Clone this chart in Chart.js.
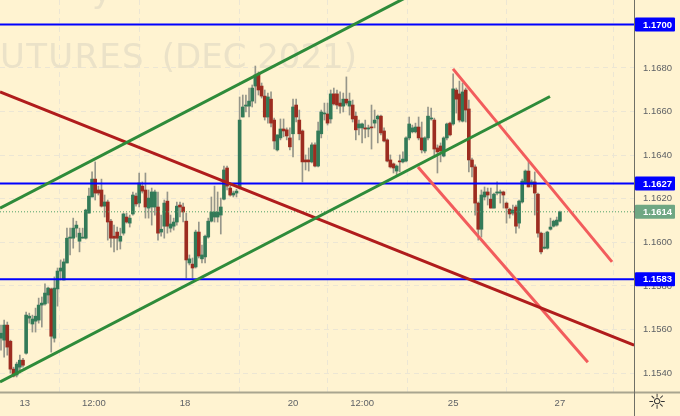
<!DOCTYPE html>
<html lang="en">
<head>
    <meta charset="UTF-8">
    <title>Futures (Dec 2021)</title>
    <script src="https://cdn.jsdelivr.net/npm/chart.js"></script>
    <style>
        body { margin: 0; background: #fff3d1; }
        canvas { display: block; }
    </style>
</head>
<body>
    <canvas id="chart" width="680" height="416"></canvas>
    <script>
        // candles, one entry per bar
        const opens = [1.15560,1.15551,1.15620,1.15546,1.15418,1.15391,1.15427,1.15459,1.15491,1.15652,1.15625,1.15638,1.15643,1.15712,1.15717,1.15758,1.15786,1.15560,1.15786,1.15868,1.15827,1.15905,1.16019,1.16019,1.16065,1.16005,1.16019,1.16019,1.16134,1.16208,1.16290,1.16240,1.16240,1.16166,1.16185,1.16097,1.16028,1.16047,1.16005,1.16042,1.16116,1.16088,1.16130,1.16212,1.16180,1.16258,1.16240,1.16157,1.16162,1.16162,1.16162,1.16047,1.16074,1.16189,1.16065,1.16074,1.16093,1.16171,1.16162,1.16097,1.15905,1.15900,1.15887,1.16047,1.15924,1.15933,1.16024,1.16097,1.16116,1.16116,1.16125,1.16198,1.16341,1.16249,1.16217,1.16226,1.16249,1.16575,1.16625,1.16625,1.16648,1.16717,1.16773,1.16717,1.16671,1.16575,1.16657,1.16561,1.16424,1.16479,1.16520,1.16516,1.16479,1.16498,1.16630,1.16561,1.16511,1.16378,1.16378,1.16369,1.16447,1.16350,1.16498,1.16589,1.16589,1.16566,1.16681,1.16681,1.16639,1.16625,1.16657,1.16625,1.16630,1.16579,1.16525,1.16525,1.16525,1.16520,1.16529,1.16547,1.16566,1.16579,1.16511,1.16470,1.16378,1.16360,1.16327,1.16373,1.16369,1.16373,1.16479,1.16507,1.16507,1.16529,1.16479,1.16419,1.16479,1.16566,1.16561,1.16433,1.16442,1.16396,1.16479,1.16547,1.16543,1.16699,1.16681,1.16556,1.16699,1.16612,1.16378,1.16346,1.16180,1.16060,1.16208,1.16231,1.16198,1.16157,1.16226,1.16226,1.16231,1.16180,1.16152,1.16134,1.16162,1.16088,1.16185,1.16272,1.16327,1.16267,1.16277,1.16221,1.16042,1.15973,1.15973,1.16060,1.16074,1.16079,1.16097];
        const highs = [1.15620,1.15643,1.15634,1.15551,1.15427,1.15450,1.15482,1.15468,1.15680,1.15675,1.15666,1.15698,1.15744,1.15749,1.15809,1.15795,1.15790,1.15841,1.15882,1.15919,1.15924,1.16065,1.16065,1.16111,1.16097,1.16065,1.16065,1.16152,1.16249,1.16323,1.16369,1.16258,1.16290,1.16217,1.16194,1.16106,1.16079,1.16070,1.16065,1.16134,1.16134,1.16125,1.16231,1.16226,1.16318,1.16277,1.16318,1.16240,1.16249,1.16240,1.16231,1.16125,1.16194,1.16231,1.16125,1.16111,1.16185,1.16185,1.16180,1.16134,1.15942,1.15928,1.16056,1.16093,1.15987,1.16033,1.16111,1.16208,1.16258,1.16231,1.16203,1.16350,1.16350,1.16272,1.16235,1.16244,1.16667,1.16676,1.16676,1.16708,1.16722,1.16809,1.16782,1.16731,1.16699,1.16685,1.16690,1.16570,1.16493,1.16566,1.16566,1.16525,1.16525,1.16657,1.16657,1.16607,1.16516,1.16401,1.16433,1.16456,1.16456,1.16552,1.16607,1.16639,1.16639,1.16699,1.16708,1.16699,1.16690,1.16685,1.16759,1.16685,1.16653,1.16598,1.16561,1.16547,1.16561,1.16538,1.16630,1.16607,1.16584,1.16584,1.16525,1.16475,1.16401,1.16364,1.16355,1.16401,1.16415,1.16484,1.16575,1.16538,1.16547,1.16575,1.16552,1.16484,1.16621,1.16616,1.16570,1.16447,1.16456,1.16484,1.16547,1.16552,1.16773,1.16708,1.16740,1.16731,1.16708,1.16653,1.16387,1.16355,1.16185,1.16240,1.16254,1.16249,1.16249,1.16226,1.16277,1.16240,1.16235,1.16185,1.16157,1.16171,1.16171,1.16194,1.16290,1.16332,1.16369,1.16286,1.16323,1.16226,1.16047,1.16042,1.16051,1.16111,1.16102,1.16116,1.16143];
        const lows = [1.15505,1.15473,1.15482,1.15400,1.15382,1.15382,1.15400,1.15427,1.15487,1.15629,1.15588,1.15588,1.15629,1.15611,1.15712,1.15721,1.15496,1.15542,1.15707,1.15827,1.15827,1.15905,1.15942,1.15973,1.16024,1.15956,1.16019,1.16015,1.16134,1.16208,1.16194,1.16217,1.16162,1.16116,1.16010,1.15978,1.15956,1.15965,1.15969,1.16033,1.16088,1.16070,1.16125,1.16166,1.16162,1.16226,1.16111,1.16111,1.16079,1.16125,1.16010,1.16028,1.16019,1.16042,1.16047,1.16056,1.16079,1.16116,1.16093,1.15836,1.15896,1.15836,1.15882,1.15928,1.15905,1.15905,1.16019,1.16093,1.16093,1.16093,1.16038,1.16194,1.16240,1.16212,1.16208,1.16208,1.16244,1.16575,1.16598,1.16575,1.16621,1.16639,1.16676,1.16662,1.16561,1.16547,1.16529,1.16428,1.16419,1.16470,1.16484,1.16470,1.16424,1.16392,1.16552,1.16470,1.16277,1.16332,1.16327,1.16364,1.16346,1.16346,1.16479,1.16561,1.16538,1.16547,1.16630,1.16612,1.16593,1.16598,1.16630,1.16584,1.16552,1.16470,1.16493,1.16456,1.16479,1.16484,1.16428,1.16525,1.16456,1.16493,1.16461,1.16369,1.16341,1.16318,1.16309,1.16323,1.16364,1.16369,1.16470,1.16502,1.16502,1.16470,1.16410,1.16410,1.16470,1.16561,1.16392,1.16318,1.16369,1.16392,1.16470,1.16488,1.16538,1.16593,1.16552,1.16552,1.16552,1.16323,1.16300,1.16125,1.16010,1.16024,1.16194,1.16171,1.16157,1.16157,1.16217,1.16180,1.16157,1.16088,1.16111,1.16125,1.16042,1.16065,1.16180,1.16267,1.16254,1.16254,1.16125,1.16024,1.15947,1.15969,1.15969,1.16056,1.16070,1.16074,1.16093];
        const closes = [1.15583,1.15620,1.15519,1.15418,1.15386,1.15441,1.15459,1.15436,1.15666,1.15661,1.15648,1.15661,1.15712,1.15721,1.15767,1.15790,1.15569,1.15790,1.15868,1.15882,1.15910,1.16019,1.16024,1.16065,1.16079,1.16042,1.16024,1.16148,1.16212,1.16290,1.16226,1.16226,1.16166,1.16185,1.16093,1.16019,1.16019,1.16019,1.16028,1.16130,1.16093,1.16111,1.16217,1.16176,1.16272,1.16235,1.16162,1.16203,1.16231,1.16231,1.16042,1.16060,1.16180,1.16074,1.16084,1.16093,1.16166,1.16162,1.16139,1.15919,1.15924,1.15882,1.16047,1.15937,1.15942,1.16028,1.16097,1.16139,1.16139,1.16139,1.16162,1.16332,1.16258,1.16217,1.16226,1.16235,1.16561,1.16621,1.16630,1.16648,1.16708,1.16768,1.16699,1.16671,1.16575,1.16667,1.16547,1.16465,1.16493,1.16520,1.16511,1.16488,1.16438,1.16621,1.16575,1.16498,1.16369,1.16369,1.16369,1.16447,1.16350,1.16511,1.16598,1.16593,1.16547,1.16681,1.16635,1.16630,1.16625,1.16657,1.16639,1.16648,1.16566,1.16516,1.16543,1.16543,1.16520,1.16525,1.16525,1.16561,1.16579,1.16502,1.16465,1.16373,1.16346,1.16341,1.16350,1.16369,1.16382,1.16479,1.16543,1.16525,1.16529,1.16479,1.16424,1.16479,1.16579,1.16570,1.16428,1.16415,1.16419,1.16479,1.16543,1.16493,1.16704,1.16657,1.16561,1.16690,1.16607,1.16378,1.16346,1.16180,1.16060,1.16217,1.16231,1.16217,1.16157,1.16221,1.16231,1.16231,1.16217,1.16157,1.16130,1.16148,1.16074,1.16189,1.16281,1.16327,1.16254,1.16277,1.16226,1.16042,1.15956,1.15978,1.16047,1.16070,1.16097,1.16102,1.16139];

        const xTickBars = [7.6, 29.6, 58.6, 93, 115, 144, 178];
        const xTickLabels = ['13', '12:00', '18', '20', '12:00', '25', '27'];
        const yTicks = [1.154, 1.156, 1.158, 1.16, 1.162, 1.164, 1.166, 1.168, 1.17];

        // drawn levels and trend lines, as [bar, price] ends
        const levels = [1.17, 1.1627, 1.1583];
        const lastPrice = 1.1614;
        const greenUpper = [[-0.32, 1.16157], [128.66, 1.17121]];
        const greenLower = [[-0.32, 1.15359], [174.84, 1.16669]];
        const redLine = [[-0.32, 1.16690], [201.6, 1.15528]];
        const pinkUpper = [[143.95, 1.16796], [194.6, 1.15910]];
        const pinkLower = [[132.8, 1.16346], [186.9, 1.15450]];

        const xMin = -0.32, xMax = 201.6, yMin = 1.15313, yMax = 1.17112;
        const BLUE = '#0000ff', TAG_GREEN = '#6fa783';

        const toPoints = line => line.map(p => ({ x: p[0], y: p[1] }));
        const trend = (line, color, width) => ({
            type: 'line', data: toPoints(line), borderColor: color, borderWidth: width,
            pointRadius: 0, tension: 0, order: 1
        });

        const wickData = highs.map((h, i) => ({ x: i, y: [lows[i], h] }));
        const bodyData = opens.map((o, i) => ({ x: i, y: [o, closes[i]] }));
        const isUp = closes.map((c, i) => c >= opens[i]);

        // no half-label padding, the plot runs to the canvas edge
        const noPad = s => {
            s.paddingTop = 0; s.paddingBottom = 0; s.paddingLeft = 0; s.paddingRight = 0;
        };

        // watermark sits above the grid, below the candles
        const watermark = {
            id: 'watermark',
            beforeDatasetsDraw(chart) {
                const { ctx, chartArea } = chart;
                ctx.save();
                ctx.beginPath();
                ctx.rect(chartArea.left, chartArea.top, chartArea.width, chartArea.height);
                ctx.clip();
                ctx.fillStyle = '#ebe2c8';
                ctx.font = '34px "DejaVu Sans"';
                ctx.textAlign = 'right';
                ctx.textBaseline = 'alphabetic';
                ctx.fillText('(DEC 2021)', 357, 68);
                ctx.letterSpacing = '1.3px';
                ctx.fillText('FUTURES', 145, 68);
                ctx.letterSpacing = '0px';
                ctx.textAlign = 'left';
                ctx.fillText('y', 92, 2);
                ctx.restore();
            }
        };

        // axis frame, price tags, settings icon
        const axisDecor = {
            id: 'axisDecor',
            afterDraw(chart) {
                const { ctx, chartArea, scales } = chart;
                ctx.save();
                ctx.strokeStyle = '#a9a58f';
                ctx.lineWidth = 2;
                ctx.beginPath();
                ctx.moveTo(0, chartArea.bottom + 0.5);
                ctx.lineTo(680, chartArea.bottom + 0.5);
                ctx.stroke();
                ctx.strokeStyle = '#6f6f66';
                ctx.lineWidth = 1;
                ctx.beginPath();
                ctx.moveTo(chartArea.right + 0.5, 0);
                ctx.lineTo(chartArea.right + 0.5, 416);
                ctx.stroke();

                const tag = (value, color) => {
                    const y = scales.y.getPixelForValue(value);
                    ctx.fillStyle = color;
                    ctx.beginPath();
                    ctx.roundRect(chartArea.right + 1, y - 7, 40, 14, 1);
                    ctx.fill();
                    ctx.fillStyle = '#ffffff';
                    ctx.font = 'bold 9.5px "Liberation Sans"';
                    ctx.textAlign = 'left';
                    ctx.textBaseline = 'middle';
                    ctx.fillText(value.toFixed(4), 643, y + 0.5);
                };
                levels.forEach(v => tag(v, BLUE));
                tag(lastPrice, TAG_GREEN);

                ctx.fillStyle = '#333333';
                ctx.font = '21px "DejaVu Sans"';
                ctx.textAlign = 'center';
                ctx.textBaseline = 'middle';
                ctx.fillText('\u263C', 657, 404);
                ctx.restore();
            }
        };

        new Chart(document.getElementById('chart').getContext('2d'), {
            data: {
                datasets: [
                    trend(greenUpper, '#2e8b3a', 3),
                    trend(greenLower, '#2e8b3a', 3),
                    trend(redLine, '#b01c1c', 3),
                    trend(pinkUpper, '#f25c5c', 3),
                    trend(pinkLower, '#f25c5c', 3),
                    ...levels.map(v => trend([[xMin, v], [xMax, v]], BLUE, 2)),
                    {
                        type: 'line', data: toPoints([[xMin, lastPrice], [xMax, lastPrice]]),
                        borderColor: '#4fa06a', borderWidth: 1, borderDash: [1, 2],
                        pointRadius: 0, order: 2
                    },
                    {
                        type: 'bar', data: bodyData, barThickness: 3, grouped: false, minBarLength: 1,
                        backgroundColor: isUp.map(up => up ? '#337a58' : '#9c2c20'),
                        order: 3
                    },
                    {
                        type: 'bar', data: wickData, barThickness: 1, grouped: false,
                        backgroundColor: '#96968a', order: 4
                    }
                ]
            },
            options: {
                responsive: false,
                animation: false,
                devicePixelRatio: 1,
                layout: { padding: 0 },
                plugins: { legend: { display: false }, tooltip: { enabled: false } },
                scales: {
                    x: {
                        type: 'linear', min: xMin, max: xMax, offset: false,
                        afterFit(s) { s.height = 24; noPad(s); },
                        afterBuildTicks(s) { s.ticks = xTickBars.map(v => ({ value: v })); },
                        grid: { color: '#ece6d4', drawTicks: false },
                        border: { display: false, dash: [5, 4] },
                        ticks: {
                            autoSkip: false, maxRotation: 0, padding: 6,
                            color: '#5f6266', font: { family: 'Liberation Sans', size: 9.5 },
                            callback: (v, i) => xTickLabels[i]
                        }
                    },
                    y: {
                        position: 'right', min: yMin, max: yMax,
                        afterFit(s) { s.width = 46; noPad(s); },
                        afterBuildTicks(s) { s.ticks = yTicks.map(v => ({ value: v })); },
                        grid: { color: '#ece6d4', drawTicks: false },
                        border: { display: false, dash: [5, 4] },
                        ticks: {
                            autoSkip: false, padding: 9,
                            color: '#5f6266', font: { family: 'Liberation Sans', size: 9.5 },
                            callback: v => v.toFixed(4)
                        }
                    }
                }
            },
            plugins: [watermark, axisDecor]
        });
    </script>
</body>
</html>
